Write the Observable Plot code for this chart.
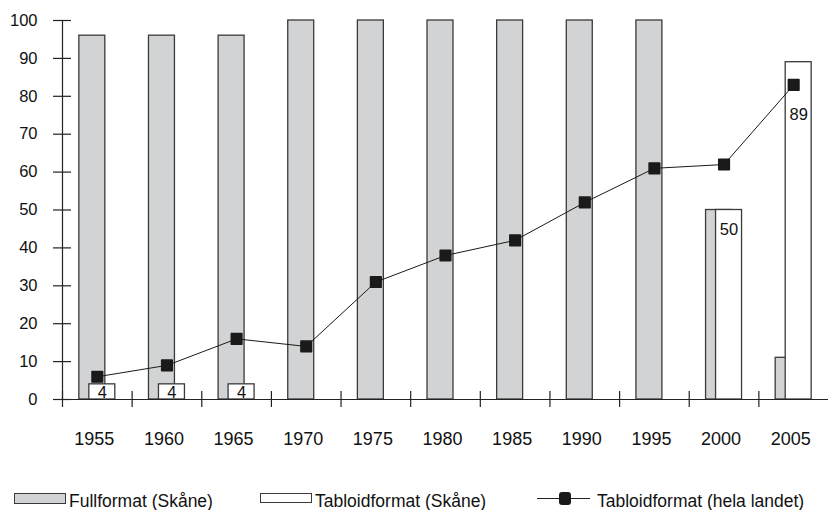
<!DOCTYPE html>
<html>
<head>
<meta charset="utf-8">
<script src="https://cdn.jsdelivr.net/npm/d3@7"></script>
<script src="https://cdn.jsdelivr.net/npm/@observablehq/plot@0.6"></script>
<style>
  html, body { margin: 0; padding: 0; background: #fff; }
  #wrap { position: relative; width: 828px; height: 510px; font-family: "Liberation Sans", Arial, Helvetica, sans-serif; color: #111; }
  #chart { position: absolute; left: 0; top: 0; }
  .sw { position: absolute; box-sizing: border-box; border: 1.3px solid #3a3a3a; }
  .lt { position: absolute; font-size: 17.5px; line-height: 17px; white-space: nowrap; }
</style>
</head>
<body>
<div id="wrap">
  <div id="chart"></div>
  <div class="sw" style="left:14px; top:493px; width:52px; height:11px; background:#d2d3d5;"></div>
  <div class="lt" style="left:69px; top:493px;">Fullformat (Skåne)</div>
  <div class="sw" style="left:260px; top:493px; width:52px; height:10px; background:#fff;"></div>
  <div class="lt" style="left:315px; top:493px;">Tabloidformat (Skåne)</div>
  <div class="sw" style="left:537px; top:498px; width:53px; height:0; border:none; border-top:1.3px solid #222;"></div>
  <div class="sw" style="left:559px; top:492px; width:12px; height:13px; border:none; background:#1a1a1a; border-radius:3px;"></div>
  <div class="lt" style="left:597px; top:493px;">Tabloidformat (hela landet)</div>
</div>
<script>
const years = ["1955", "1960", "1965", "1970", "1975", "1980", "1985", "1990", "1995", "2000", "2005"];
const fullformatSkane = [96, 96, 96, 100, 100, 100, 100, 100, 100, 50, 11];
const tabloidSkane = [4, 4, 4, 0, 0, 0, 0, 0, 0, 50, 89];
const tabloidNational = [6, 9, 16, 14, 31, 38, 42, 52, 61, 62, 83];
const yTicks = [0, 10, 20, 30, 40, 50, 60, 70, 80, 90, 100];

const rows = years.map((year, i) => ({
  year,
  full: fullformatSkane[i],
  tabloid: tabloidSkane[i],
  national: tabloidNational[i]
}));

const W = 828, H = 470, ML = 62, MR = 0, MT = 20, MB = 71;
const step = (W - ML - MR) / years.length;
const font = "'Liberation Sans', Arial, Helvetica, sans-serif";
const stroke = "#3a3a3a";

const labelMarks = (pred, dy) => Plot.text(rows.filter(d => d.tabloid > 0 && pred(d)), {
  x: "year", y: "tabloid", text: d => String(d.tabloid), dx: 5, dy, fontSize: 16.5, fill: "#111"
});

const chart = Plot.plot({
  width: W, height: H,
  marginLeft: ML, marginRight: MR, marginTop: MT, marginBottom: MB,
  style: { fontFamily: font, fontSize: "16px", color: "#111", background: "#fff" },
  x: { domain: years, paddingInner: 0.627, paddingOuter: 0.3135, round: false, axis: null },
  y: { domain: [0, 100], axis: null },
  marks: [
    Plot.barY(rows, { x: "year", y: "full", fill: "#d2d3d5", stroke, strokeWidth: 1.3, dx: -5 }),
    Plot.barY(rows.filter(d => d.tabloid > 0), { x: "year", y: "tabloid", fill: "#fff", stroke, strokeWidth: 1.3, dx: 5 }),
    labelMarks(d => d.tabloid < 10, 8),
    labelMarks(d => d.tabloid >= 10 && d.tabloid < 60, 20),
    labelMarks(d => d.tabloid >= 60, 53),
    Plot.line(rows, { x: "year", y: "national", stroke: "#1a1a1a", strokeWidth: 1 }),
    Plot.dot(rows, { x: "year", y: "national", symbol: "square", r: 6, fill: "#1a1a1a", stroke: "#1a1a1a", strokeWidth: 1.5, strokeLinejoin: "round" }),
    Plot.ruleY([0], { stroke: "#222", strokeWidth: 1.2 }),
    Plot.ruleX([years[0]], { x: d => d, dx: -step / 2, y1: 0, y2: 100, stroke: "#222", strokeWidth: 1.2 }),
    Plot.ruleX(years, { x: d => d, dx: -step / 2, y1: -2.1, y2: 2.1, stroke: "#222", strokeWidth: 1.2 }),
    Plot.axisY({ ticks: yTicks, tickSize: 18, dx: 9, tickFormat: () => "", label: null, stroke: "#222", strokeWidth: 1.2 }),
    Plot.axisY({ ticks: yTicks, tickSize: 0, tickPadding: 25, fontSize: 16.5, label: null }),
    Plot.axisX({ tickSize: 0, tickPadding: 33, fontSize: 18, dx: -3, label: null })
  ]
});
document.getElementById("chart").appendChild(chart);
</script>
</body>
</html>
